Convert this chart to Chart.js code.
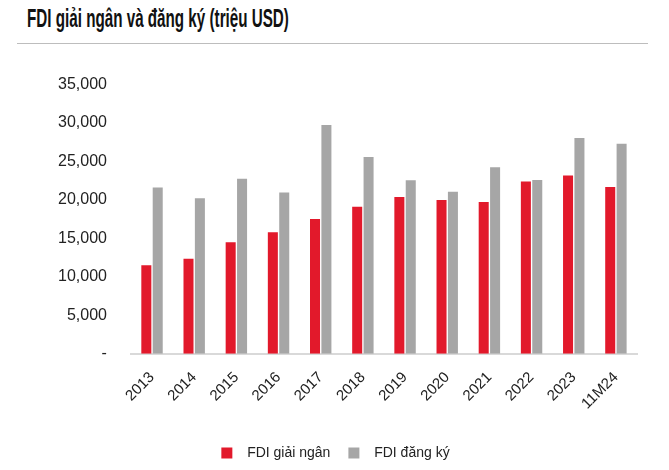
<!DOCTYPE html>
<html>
<head>
<meta charset="utf-8">
<script src="https://cdn.jsdelivr.net/npm/chart.js@4"></script>
<style>
  body { margin: 0; background: #fff; width: 669px; height: 470px; overflow: hidden; position: relative; }
  #title { position: absolute; left: 27px; top: 3px; font: bold 26px "Liberation Sans", Arial, sans-serif; color: #111; white-space: nowrap; transform-origin: 0 0; }
  #rule { position: absolute; left: 17px; top: 43px; width: 631px; height: 0; border-top: 1px solid #bdbdbd; }
  #wrap { position: absolute; left: 0; top: 51px; width: 669px; height: 419px; }
</style>
</head>
<body>
<div id="title">FDI giải ngân và đăng ký (triệu USD)</div>
<div id="rule"></div>
<div id="wrap"><canvas id="fdiChart"></canvas></div>
<script>
// Categories and values (million USD)
const years = ['2013', '2014', '2015', '2016', '2017', '2018', '2019', '2020', '2021', '2022', '2023', '11M24'];
const disbursed = [11500, 12350, 14500, 15800, 17500, 19100, 20380, 19980, 19740, 22400, 23180, 21680];
const registered = [21600, 20230, 22760, 20950, 29750, 25570, 22550, 21060, 24260, 22600, 28050, 27300];
const seriesNames = ['FDI giải ngân', 'FDI đăng ký'];

// condensed look for the title (reference uses a narrow face)
const title = document.getElementById('title');
title.style.transform = 'scaleX(' + (262 / title.offsetWidth) + ')';

const face = '"Liberation Sans", Arial, sans-serif';

new Chart(document.getElementById('fdiChart'), {
  type: 'bar',
  data: {
    labels: years,
    datasets: [
      { label: seriesNames[0], data: disbursed, backgroundColor: '#e2192b' },
      { label: seriesNames[1], data: registered, backgroundColor: '#a6a6a6' }
    ]
  },
  options: {
    responsive: true,
    maintainAspectRatio: false,
    animation: false,
    layout: { padding: { left: 34, right: 32, top: 6, bottom: 0 } },
    datasets: { bar: { categoryPercentage: 0.54, barPercentage: 0.88 } },
    scales: {
      x: {
        grid: { display: false, drawTicks: false },
        border: { color: '#d9d9d9', width: 2 },
        ticks: { color: '#222', font: { family: face, size: 15 }, minRotation: 45, maxRotation: 45, padding: 15 }
      },
      y: {
        min: 0,
        max: 35000,
        grid: { display: false, drawTicks: false },
        border: { display: false },
        ticks: {
          stepSize: 5000,
          color: '#222',
          padding: 24,
          font: { family: face, size: 16 },
          callback: v => v === 0 ? '-' : v.toLocaleString('en-US')
        }
      }
    },
    plugins: {
      legend: {
        position: 'bottom',
        labels: {
          color: '#222',
          font: { family: face, size: 14 },
          boxWidth: 11,
          boxHeight: 11,
          padding: 18,
          // wider gap between swatch and text, as in the reference
          generateLabels: chart => Chart.defaults.plugins.legend.labels.generateLabels(chart)
            .map(item => Object.assign(item, { text: '  ' + item.text }))
        }
      },
      tooltip: { enabled: false }
    }
  }
});
</script>
</body>
</html>
